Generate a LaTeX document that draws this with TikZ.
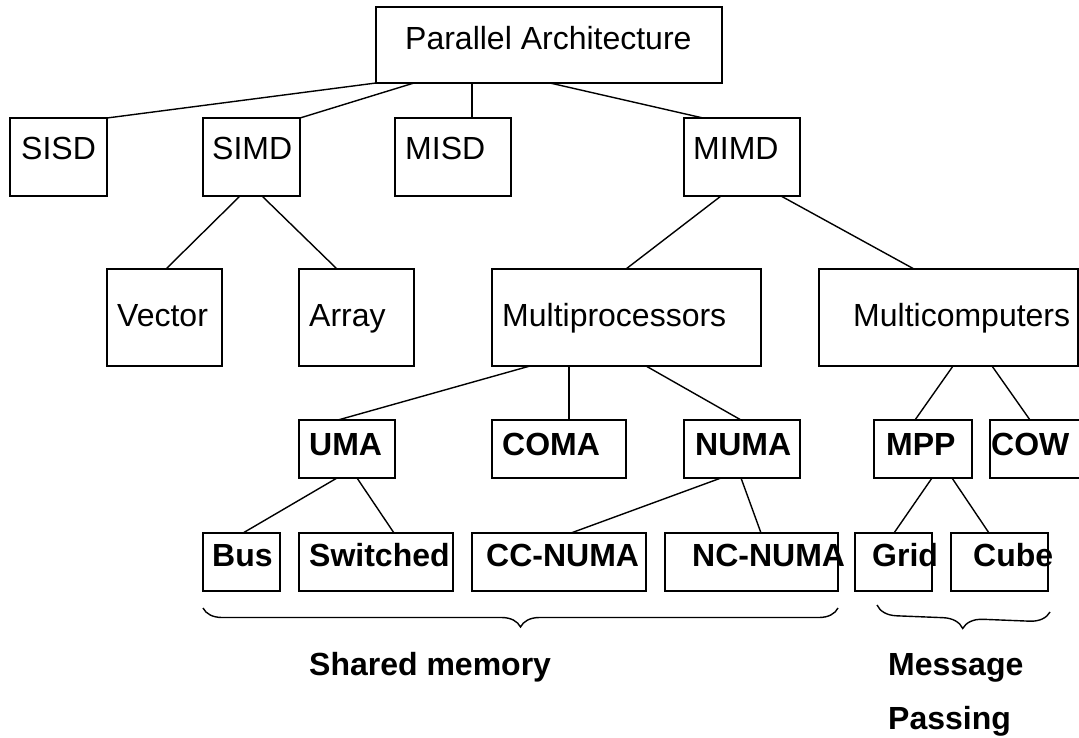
\documentclass[tikz,border=0pt]{standalone}
\usepackage{fontspec}
\setmainfont{Liberation Sans}
\usetikzlibrary{decorations.pathreplacing}

\begin{document}
\begin{tikzpicture}[x=1pt,y=-1pt,
  box/.style={draw, line width=1.8pt, rectangle, outer sep=0pt, inner sep=0pt, anchor=north west},
  txt/.style={anchor=base west, inner sep=0pt, font=\fontsize{32}{38}\selectfont},
  btxt/.style={txt, font=\fontsize{32}{38}\selectfont\bfseries},
  link/.style={line width=1.4pt},
  grp/.style={line width=1.4pt, decorate, decoration={brace, mirror, amplitude=#1}}
]
\useasboundingbox (0,0) rectangle (1079,738);

% level 0
\node[box, minimum width=346pt, minimum height=76pt] (root) at (376,7) {};
\node[txt] (troot) at (405,50) {Parallel Architecture};

% level 1: Flynn classes
\node[box, minimum width=97pt,  minimum height=78pt] (sisd) at (10,118) {};
\node[box, minimum width=97pt,  minimum height=78pt] (simd) at (203,118) {};
\node[box, minimum width=116pt, minimum height=78pt] (misd) at (395,118) {};
\node[box, minimum width=116pt, minimum height=78pt] (mimd) at (684,118) {};
\node[txt] (tsisd) at (21,160) {SISD};
\node[txt] (tsimd) at (212,160) {SIMD};
\node[txt] (tmisd) at (405,160) {MISD};
\node[txt] (tmimd) at (693,160) {MIMD};

% level 2
\node[box, minimum width=115pt, minimum height=97pt] (vector) at (107,269) {};
\node[box, minimum width=115pt, minimum height=97pt] (array)  at (299,269) {};
\node[box, minimum width=269pt, minimum height=97pt] (mproc)  at (492,269) {};
\node[box, minimum width=259pt, minimum height=97pt] (mcomp)  at (819,269) {};
\node[txt] (tvector) at (117,326) {Vector};
\node[txt] (tarray)  at (309,326) {Array};
\node[txt] (tmproc)  at (502,326) {Multiprocessors};
\node[txt] (tmcomp)  at (853,326) {Multicomputers};

% level 3
\node[box, minimum width=96pt,  minimum height=58pt] (uma)  at (299,420) {};
\node[box, minimum width=134pt, minimum height=58pt] (coma) at (492,420) {};
\node[box, minimum width=116pt, minimum height=58pt] (numa) at (684,420) {};
\node[box, minimum width=98pt,  minimum height=58pt] (mpp)  at (874,420) {};
\node[box, minimum width=110pt, minimum height=58pt] (cow)  at (990,420) {};
\node[btxt] (tuma)  at (309,455) {UMA};
\node[btxt] (tcoma) at (502,455) {COMA};
\node[btxt] (tnuma) at (695,455) {NUMA};
\node[btxt] (tmpp)  at (886,455) {MPP};
\node[btxt] (tcow)  at (991,455) {COW};

% level 4
\node[box, minimum width=77pt,  minimum height=58pt] (bus)      at (203,533) {};
\node[box, minimum width=154pt, minimum height=58pt] (switched) at (299,533) {};
\node[box, minimum width=174pt, minimum height=58pt] (ccnuma)   at (472,533) {};
\node[box, minimum width=173pt, minimum height=58pt] (ncnuma)   at (665,533) {};
\node[box, minimum width=77pt,  minimum height=58pt] (grid)     at (855,533) {};
\node[box, minimum width=97pt,  minimum height=58pt] (cube)     at (951,533) {};
\node[btxt] (tbus)      at (212,566) {Bus};
\node[btxt] (tswitched) at (309,566) {Switched};
\node[btxt] (tccnuma)   at (486,566) {CC-NUMA};
\node[btxt] (tncnuma)   at (692,566) {NC-NUMA};
\node[btxt] (tgrid)     at (872,566) {Grid};
\node[btxt] (tcube)     at (973,566) {Cube};

% connectors
\draw[link] (root.south west) -- (sisd.north east);
\draw[link] ([xshift=38pt]root.south west) -- (simd.north east);
\draw[link] ([xshift=96pt]root.south west) -- ([xshift=77pt]misd.north west);
\draw[link] ([xshift=174pt]root.south west) -- ([xshift=19pt]mimd.north west);

\draw[link] ([xshift=37pt]simd.south west) -- ([xshift=59pt]vector.north west);
\draw[link] ([xshift=59pt]simd.south west) -- ([xshift=38pt]array.north west);
\draw[link] ([xshift=37pt]mimd.south west) -- ([xshift=134pt]mproc.north west);
\draw[link] ([xshift=97pt]mimd.south west) -- ([xshift=95pt]mcomp.north west);

\draw[link] ([xshift=38pt]mproc.south west) -- ([xshift=39pt]uma.north west);
\draw[link] ([xshift=77pt]mproc.south west) -- ([xshift=77pt]coma.north west);
\draw[link] ([xshift=154pt]mproc.south west) -- ([xshift=57pt]numa.north west);
\draw[link] ([xshift=134pt]mcomp.south west) -- ([xshift=41pt]mpp.north west);
\draw[link] ([xshift=173pt]mcomp.south west) -- ([xshift=40pt]cow.north west);

\draw[link] ([xshift=38pt]uma.south west) -- ([xshift=40pt]bus.north west);
\draw[link] ([xshift=58pt]uma.south west) -- ([xshift=95pt]switched.north west);
\draw[link] ([xshift=37pt]numa.south west) -- ([xshift=99pt]ccnuma.north west);
\draw[link] ([xshift=57pt]numa.south west) -- ([xshift=96pt]ncnuma.north west);
\draw[link] ([xshift=58pt]mpp.south west) -- ([xshift=39pt]grid.north west);
\draw[link] ([xshift=78pt]mpp.south west) -- ([xshift=38pt]cube.north west);

% grouping braces and their captions
\coordinate (sm1) at (203,608);
\coordinate (sm2) at (838,608);
\coordinate (mp1) at (877,605);
\coordinate (mp2) at (1050,612);
\draw[grp=19pt] (sm1) -- (sm2);
\draw[grp=20pt] (mp1) -- (mp2);
\node[btxt] (tshared)  at (309,675) {Shared memory};
\node[btxt] (tmessage) at (888,675) {Message};
\node[btxt] (tpassing) at (888,729) {Passing};
\end{tikzpicture}
\end{document}
